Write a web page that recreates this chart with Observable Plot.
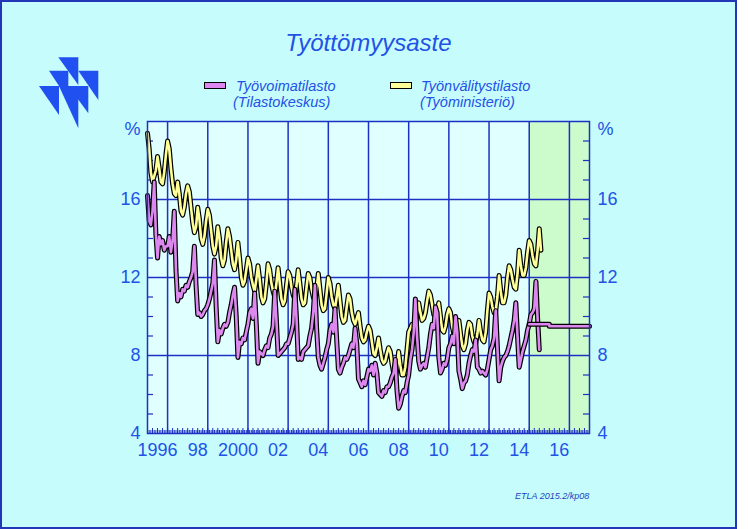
<!DOCTYPE html>
<html><head><meta charset="utf-8">
<script src="https://cdn.jsdelivr.net/npm/d3@7"></script>
<script src="https://cdn.jsdelivr.net/npm/@observablehq/plot@0.6"></script>
<style>
body{margin:0;background:#fff;}
#wrap{position:relative;width:737px;height:529px;background:#c6fcfc;font-family:"Liberation Sans",Arial,sans-serif;color:#2252e6;overflow:hidden}
#border{position:absolute;left:0;top:0;width:737px;height:529px;box-sizing:border-box;border:2px solid #2436b8;pointer-events:none}
#chart{position:absolute;left:0;top:0}
#logo{position:absolute;left:0;top:0}
.title{position:absolute;left:0;width:737px;top:29px;text-align:center;font-style:italic;font-size:24px;line-height:28px}
.sw{position:absolute;width:22px;height:7px;box-sizing:border-box;border:1.5px solid #000}
.leg{position:absolute;font-style:italic;font-size:14.5px;line-height:16px;white-space:nowrap}
.cap{position:absolute;left:515px;top:491px;font-style:italic;font-size:9px;line-height:10px;color:#1f3fc0}
</style></head>
<body>
<div id="wrap">
  <svg id="logo" width="120" height="140">
    <g fill="#2050f0">
      <polygon points="58.3,57.3 78.3,57.3 78.3,85"/>
      <polygon points="49,70.7 68.3,70.7 68.3,100"/>
      <polygon points="78.3,70.7 98.3,70.7 98.3,100"/>
      <polygon points="39,86 59,86 59,115"/>
      <polygon points="59,86 78.3,86 78.3,128.3"/>
      <polygon points="68.3,86 88.3,86 88.3,113.3"/>
    </g>
  </svg>
  <div id="chart"></div>
  <div class="title">Työttömyysaste</div>
  <div class="sw" id="sw1" style="left:204px;top:82px"></div>
  <div class="leg" id="leg1" style="left:236px;top:78px">Työvoimatilasto<br><span style="margin-left:-3px">(Tilastokeskus)</span></div>
  <div class="sw" id="sw2" style="left:390px;top:82px"></div>
  <div class="leg" id="leg2" style="left:421px;top:78px">Työnvälitystilasto<br><span style="margin-left:-1px">(Työministeriö)</span></div>
  <div class="cap">ETLA 2015.2/kp08</div>
  <div id="border"></div>
</div>
<script>
// ---- data (monthly, January 1996 onwards) ----
const startYear = 1996;
const seriesNames = ["Työvoimatilasto", "Työnvälitystilasto"];
const seriesColors = ["#dd88ee", "#ffff99"];
// Työvoimatilasto (Tilastokeskus), %, Jan 1996 – Jul 2015
const tyovoimatilasto = [
  16.2,14.9,14.7,15.4,16.9,14.2,13.0,14.1,13.7,13.9,13.4,13.6,
  13.6,14.1,13.3,13.9,15.4,12.4,10.8,11.2,11.0,11.4,11.3,11.6,
  11.5,11.8,12.0,12.3,13.6,11.6,10.1,10.2,10.0,10.1,10.3,10.4,
  10.6,10.9,11.3,11.7,12.9,10.5,8.7,9.3,9.1,9.4,9.6,9.5,
  9.7,10.2,10.6,11.1,11.5,10.0,7.9,8.7,8.6,8.9,8.8,9.2,
  9.6,10.2,10.4,9.9,11.2,9.6,7.6,8.2,8.1,8.0,8.3,8.5,
  8.4,8.9,9.1,9.5,11.3,9.8,8.0,8.1,8.2,8.3,8.4,8.6,
  8.6,8.9,9.2,9.6,11.4,9.9,7.8,7.9,7.8,8.2,8.3,8.4,
  8.5,9.0,9.4,10.2,11.6,9.4,7.9,7.5,7.3,7.6,7.9,8.3,
  8.6,9.3,9.6,9.2,10.4,8.8,7.3,7.1,7.4,7.6,7.9,7.8,
  8.0,8.3,8.6,8.4,9.4,8.6,6.8,6.6,6.4,6.7,6.5,6.9,
  7.3,7.2,7.5,7.0,7.6,7.1,6.1,6.0,5.9,6.2,6.1,6.4,
  6.4,6.6,6.9,7.1,7.8,6.2,5.3,5.5,5.9,6.2,6.1,6.6,
  7.0,7.8,8.3,9.2,10.9,9.0,7.7,7.3,7.5,7.6,7.4,7.9,
  8.4,9.1,9.6,9.4,10.5,10.2,7.9,7.1,7.3,7.6,7.5,7.8,
  8.4,8.6,9.0,8.6,10.0,9.2,7.2,6.8,6.3,6.6,6.7,7.0,
  7.6,8.0,8.3,8.2,8.8,7.4,7.3,7.1,7.2,7.1,7.0,7.3,
  7.8,8.3,8.5,8.9,10.3,8.4,6.7,7.4,7.7,7.9,8.0,8.2,
  8.5,8.9,9.3,9.8,10.7,9.0,7.4,7.8,8.2,8.5,8.8,9.3,
  9.6,10.1,10.2,10.4,11.8,9.9,8.3
];
// Työnvälitystilasto (Työministeriö), %, Jan 1996 – Aug 2015
const tyonvalitystilasto = [
  19.4,18.6,17.4,16.9,17.2,17.5,18.2,17.6,16.9,16.8,17.4,18.3,
  19.0,18.6,17.6,16.8,16.3,16.2,16.9,16.3,15.4,15.2,15.6,16.3,
  16.7,16.4,15.6,14.8,14.3,14.6,15.6,15.0,14.0,13.7,14.1,14.9,
  15.5,15.2,14.4,13.6,13.2,13.6,14.6,14.0,13.0,12.6,12.9,13.8,
  14.5,14.1,13.4,12.7,12.4,12.9,13.8,13.0,12.0,11.6,11.8,12.4,
  13.0,12.7,12.0,11.6,11.3,11.9,12.6,11.9,11.0,10.7,10.9,11.7,
  12.7,12.4,11.7,11.3,11.0,11.7,12.5,11.7,10.9,10.6,10.8,11.6,
  12.3,12.1,11.5,11.1,10.9,11.6,12.4,11.7,10.9,10.6,10.7,11.5,
  12.2,12.0,11.4,11.0,10.8,11.4,12.2,11.4,10.6,10.3,10.4,11.2,
  12.0,11.7,11.0,10.6,10.4,11.0,11.6,10.8,10.0,9.7,9.8,10.5,
  11.1,10.9,10.2,9.8,9.6,9.9,10.2,9.5,8.9,8.7,8.8,9.2,
  9.5,9.3,8.7,8.1,8.0,8.4,8.9,8.3,7.8,7.6,7.7,8.1,
  8.4,8.2,7.6,7.1,6.9,7.3,8.2,7.5,7.0,7.0,7.4,8.3,
  9.2,9.4,9.6,9.5,9.6,10.2,10.7,10.2,9.8,9.9,10.2,10.8,
  11.3,11.1,10.6,10.1,10.0,10.3,10.7,10.0,9.3,9.2,9.5,10.1,
  10.4,10.2,9.5,9.1,9.0,9.4,9.8,9.1,8.5,8.3,8.6,9.3,
  9.7,9.6,9.0,8.7,8.6,9.1,9.8,9.2,8.8,8.7,9.2,10.3,
  11.2,11.0,10.5,10.2,10.3,11.0,12.1,11.3,10.7,10.7,11.1,12.0,
  12.6,12.4,11.9,11.5,11.4,12.2,13.4,12.6,12.1,12.1,12.5,13.3,
  13.9,13.7,13.1,12.7,12.6,13.4,14.5,13.4
];
// ETLA forecast (Työvoimatilasto), annual
const forecastYears = [2015, 2016, 2017];
const forecastValues = [9.6, 9.5, 9.5];
const forecastEnd = 2018;
// axes
const xDomain = [1996, 2018];
const yDomain = [4, 20];
const xGridYears = [1997, 1999, 2001, 2003, 2005, 2007, 2009, 2011, 2013, 2015, 2017];
const xLabelYears = [1996, 1998, 2000, 2002, 2004, 2006, 2008, 2010, 2012, 2014, 2016];
const xLabelTexts = ["1996", "98", "2000", "02", "04", "06", "08", "10", "12", "14", "16"];
const yLabelTicks = [4, 8, 12, 16];
const yGridTicks = [8, 12, 16];
const yMinorTicks = [5, 6, 7, 9, 10, 11, 13, 14, 15, 17, 18, 19];

// ---- build ----
document.getElementById("sw1").style.background = seriesColors[0];
document.getElementById("sw2").style.background = seriesColors[1];

const W = 737, H = 529, mL = 147, mR = 148, mT = 121, mB = 96;
const innerW = W - mL - mR, innerH = H - mT - mB;
const BLUE = "#1c30c4", TEXT = "#2252e6";

const vData = tyovoimatilasto.map((v, i) => ({t: startYear + i / 12, v}));
const yData = tyonvalitystilasto.map((v, i) => ({t: startYear + i / 12, v}));
const fcData = forecastYears.map((t, i) => ({t, v: forecastValues[i]}));
fcData.push({t: forecastEnd, v: forecastValues[forecastValues.length - 1]});
const region = [{x1: forecastYears[0], x2: forecastEnd}];
const monthTicks = d3.range(xDomain[0] * 12, xDomain[1] * 12 + 1).map(m => m / 12);
const quarterTicks = d3.range(xDomain[0] * 4, xDomain[1] * 4 + 1).map(q => q / 4);
const labelPos = xLabelYears.map(y => y + 0.5);

const outline = (data, color) => [
  Plot.line(data, {x: "t", y: "v", stroke: "#000", strokeWidth: 5, strokeLinejoin: "round"}),
  Plot.line(data, {x: "t", y: "v", stroke: color, strokeWidth: 2.6, strokeLinejoin: "round"})
];
const stepOutline = (data, color) => [
  Plot.line(data, {x: "t", y: "v", curve: "step-after", stroke: "#000", strokeWidth: 5}),
  Plot.line(data, {x: "t", y: "v", curve: "step-after", stroke: color, strokeWidth: 2.6})
];

const chart = Plot.plot({
  width: W, height: H,
  marginLeft: mL, marginRight: mR, marginTop: mT, marginBottom: mB,
  style: {background: "transparent", color: TEXT, fontFamily: "'Liberation Sans', Arial, sans-serif", overflow: "visible"},
  x: {domain: xDomain, axis: null},
  y: {domain: yDomain, axis: null},
  marks: [
    Plot.frame({fill: "#e0ffff", stroke: null}),
    Plot.rect(region, {x1: "x1", x2: "x2", y1: yDomain[0], y2: yDomain[1], fill: "#ccfccc"}),
    Plot.ruleX(xGridYears, {stroke: BLUE, strokeWidth: 1.5}),
    Plot.ruleY(yGridTicks, {stroke: BLUE, strokeWidth: 1.5}),
    Plot.tickY(yMinorTicks, {y: d => d, stroke: BLUE, strokeWidth: 1.2, insetRight: innerW - 6}),
    Plot.tickY(yMinorTicks, {y: d => d, stroke: BLUE, strokeWidth: 1.2, insetLeft: innerW - 6}),
    Plot.tickX(monthTicks, {x: d => d, stroke: BLUE, strokeWidth: 1, insetTop: innerH - 3}),
    Plot.tickX(quarterTicks, {x: d => d, stroke: BLUE, strokeWidth: 1, insetTop: innerH - 5}),
    ...outline(yData, seriesColors[1]),
    ...outline(vData, seriesColors[0]),
    ...stepOutline(fcData, seriesColors[0]),
    Plot.frame({stroke: BLUE, strokeWidth: 1.5}),
    Plot.axisY(yLabelTicks, {anchor: "left", label: null, tickSize: 0, tickPadding: 7, fontSize: 18}),
    Plot.axisY(yLabelTicks, {anchor: "right", label: null, tickSize: 0, tickPadding: 8, fontSize: 18}),
    Plot.axisX(labelPos, {anchor: "bottom", label: null, tickSize: 0, tickPadding: 10, fontSize: 18,
      tickFormat: d => xLabelTexts[xLabelYears.indexOf(Math.floor(d))]}),
    Plot.text(["%"], {frameAnchor: "top-left", text: d => d, dx: -7, dy: 8, textAnchor: "end", lineAnchor: "middle", fontSize: 18}),
    Plot.text(["%"], {frameAnchor: "top-right", text: d => d, dx: 8, dy: 8, textAnchor: "start", lineAnchor: "middle", fontSize: 18})
  ]
});
document.getElementById("chart").appendChild(chart);
</script>
</body></html>
